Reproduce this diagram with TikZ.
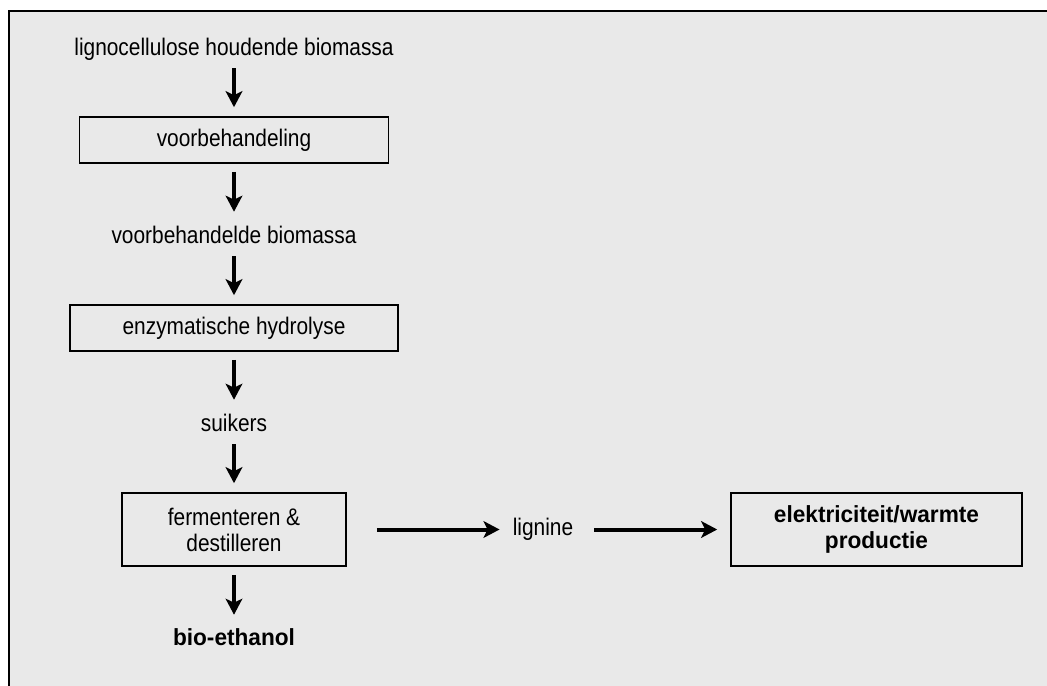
\documentclass[tikz,border=0pt]{standalone}
\usepackage{fontspec}
\setmainfont[FakeStretch=0.87]{Liberation Sans}
\newfontfamily\boldfont[FakeStretch=0.97]{Liberation Sans}
\usepackage{xcolor}
\usetikzlibrary{arrows.meta}
\definecolor{panelgray}{HTML}{E9E9E9}

\begin{document}
\begin{tikzpicture}[x=0.75pt,y=-0.75pt,
            every node/.style={font=\fontsize{18}{19.5}\selectfont},
            stage/.style={draw,line width=1.2pt,inner sep=0pt,align=center},
            stuff/.style={inner sep=0pt,text height=12pt,text depth=3.75pt,anchor=base},
            strong/.style={font=\boldfont\bfseries\fontsize{17.5}{19.5}\selectfont},
            flow/.style={-{Stealth[length=12pt,width=12.5pt,inset=3pt]},line width=3pt,shorten <=6pt,shorten >=6.75pt}]
            \useasboundingbox (0,0) rectangle (1047,686);
            \fill[panelgray] (9,11) rectangle (1047,686);
            \draw[line width=1.5pt] (9,686) -- (9,11) -- (1047,11);
            \node[stuff] (src) at (234,55) {lignocellulose houdende biomassa};
            \node[stage,minimum width=231.75pt,minimum height=34.5pt] (pre) at (234,140) {voorbehandeling};
            \node[stuff] (prebio) at (234,243) {voorbehandelde biomassa};
            \node[stage,minimum width=246pt,minimum height=34.5pt] (hyd) at (234,328) {enzymatische hydrolyse};
            \node[stuff] (sug) at (234,431) {suikers};
            \node[stage,minimum width=168pt,minimum height=54.75pt] (fer) at (234,529.5) {fermenteren \&\\destilleren};
            \node[stuff,strong] (eth) at (234,645) {bio-ethanol};
            \node[stuff] (lig) at (543,535) {lignine};
            \node[stage,strong,minimum width=218.25pt,minimum height=54.75pt] (elec) at (876.5,529.5) {elektriciteit/warmte\\productie};
            \draw[flow] (src) -- (pre);
            \draw[flow,shorten >=11.25pt] (pre) -- (prebio);
            \draw[flow] (prebio) -- (hyd);
            \draw[flow,shorten >=11.25pt] (hyd) -- (sug);
            \draw[flow] (sug) -- (fer);
            \draw[flow,shorten >=10.5pt] (fer) -- (eth);
            \draw[flow,shorten <=22.5pt,shorten >=9.75pt] (fer) -- (lig);
            \draw[flow,shorten <=15.75pt,shorten >=9.75pt] (lig) -- (elec);
        \end{tikzpicture}
\end{document}
